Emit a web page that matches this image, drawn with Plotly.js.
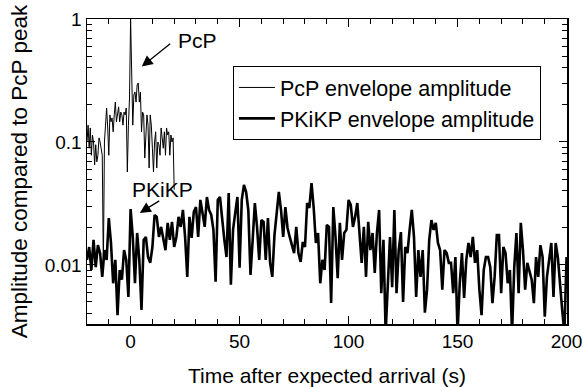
<!DOCTYPE html>
<html>
<head>
<meta charset="utf-8">
<script src="https://cdn.plot.ly/plotly-3.0.1.min.js"></script>
<style>html,body{margin:0;padding:0;background:#fff;}#chart{width:583px;height:387px;}</style>
</head>
<body>
<div id="chart"></div>
<script>
// PcP envelope amplitude, sampled every 0.5 s from -20 s
const pcpStart = -20, pcpStep = 0.5;
const pcpAmp = [
  0.100, 0.137, 0.089, 0.130, 0.078, 0.114, 0.100, 0.065, 0.095, 0.069,
  0.078, 0.108, 0.100, 0.089, 0.078, 0.0096, 0.100, 0.137, 0.189, 0.130,
  0.078, 0.166, 0.146, 0.157, 0.121, 0.166, 0.211, 0.146, 0.175, 0.193,
  0.146, 0.175, 0.166, 0.137, 0.175, 0.166, 0.189, 0.057, 0.137, 0.228,
  1.0, 0.423, 0.137, 0.241, 0.255, 0.211, 0.291, 0.302, 0.211, 0.255,
  0.121, 0.175, 0.166, 0.074, 0.137, 0.166, 0.137, 0.0615, 0.166, 0.137,
  0.089, 0.057, 0.100, 0.121, 0.0615, 0.100, 0.095, 0.078, 0.130, 0.100,
  0.089, 0.121, 0.078, 0.130, 0.114, 0.121, 0.078, 0.114, 0.100, 0.108,
  0.041
];
// PKiKP envelope amplitude, sampled every 1 s from -20 s
const pkikpStart = -20, pkikpStep = 1;
const pkikpAmp = [
  0.0110, 0.0140, 0.0091, 0.0160, 0.0096, 0.0145, 0.0125, 0.0080, 0.0132, 0.0110,
  0.0241, 0.0151, 0.0071, 0.0110, 0.0039, 0.0091, 0.0076, 0.0132, 0.0110, 0.0055,
  0.0285, 0.0169, 0.0071, 0.0182, 0.0110, 0.0043, 0.0160, 0.0169, 0.0116, 0.0104,
  0.0140, 0.0255, 0.0246, 0.0169, 0.0204, 0.0160, 0.0132, 0.0220, 0.0160, 0.0224,
  0.0140, 0.0169, 0.0246, 0.0204, 0.0280, 0.0169, 0.0080, 0.0246, 0.0166, 0.0270,
  0.0296, 0.0169, 0.0338, 0.0265, 0.0204, 0.0357, 0.0280, 0.0255, 0.0193, 0.0073,
  0.0338, 0.0357, 0.0232, 0.0160, 0.0116, 0.0385, 0.0069, 0.0193, 0.0265, 0.0357,
  0.0095, 0.0338, 0.0447, 0.0392, 0.0280, 0.0083, 0.0160, 0.0319, 0.0204, 0.0110,
  0.0232, 0.0224, 0.0110, 0.0241, 0.0104, 0.0080, 0.0175, 0.0255, 0.0392, 0.0280,
  0.0169, 0.0296, 0.0200, 0.0169, 0.0145, 0.0125, 0.0204, 0.0125, 0.0106, 0.0154,
  0.0140, 0.0319, 0.0291, 0.0464, 0.0291, 0.0151, 0.0182, 0.0071, 0.0110, 0.0091,
  0.0212, 0.0204, 0.0049, 0.0296, 0.0169, 0.0078, 0.0220, 0.0110, 0.0182, 0.0193,
  0.0338, 0.0308, 0.0204, 0.0246, 0.0319, 0.0169, 0.0104, 0.0204, 0.0080, 0.0224,
  0.0132, 0.0182, 0.0086, 0.0182, 0.0280, 0.0059, 0.0160, 0.0028, 0.0076, 0.0169,
  0.0066, 0.0280, 0.0059, 0.0132, 0.0185, 0.0050, 0.0140, 0.0125, 0.0193, 0.0280,
  0.0169, 0.0055, 0.0132, 0.0080, 0.0132, 0.0041, 0.0063, 0.0160, 0.0232, 0.0193,
  0.0220, 0.0151, 0.0132, 0.0063, 0.0132, 0.0125, 0.0104, 0.0104, 0.0059, 0.0116,
  0.0028, 0.0071, 0.0125, 0.0054, 0.0110, 0.0151, 0.0116, 0.0169, 0.0104, 0.0132,
  0.0063, 0.0039, 0.0091, 0.0116, 0.0116, 0.0096, 0.0049, 0.0080, 0.0175, 0.0175,
  0.0059, 0.0140, 0.0125, 0.0071, 0.0091, 0.0028, 0.0096, 0.0182, 0.0059, 0.0220,
  0.0132, 0.0063, 0.0104, 0.0091, 0.0076, 0.0049, 0.0116, 0.0080, 0.0145, 0.0116,
  0.0038, 0.0080, 0.0116, 0.0151, 0.0055, 0.0151, 0.0116, 0.0066, 0.0043, 0.0028,
  0.0116
];
const seriesNames = ["PcP envelope amplitude", "PKiKP envelope amplitude"];
const yTickVals = [0.01, 0.1, 1];
const yTickText = ["0.01", "0.1", "1"];
const yMinorVals = [0.004,0.005,0.006,0.007,0.008,0.009,0.02,0.03,0.04,0.05,0.06,0.07,0.08,0.09,0.2,0.3,0.4,0.5,0.6,0.7,0.8,0.9];
const xTickVals = [0, 50, 100, 150, 200];

const pcpTime = pcpAmp.map((_, i) => pcpStart + i * pcpStep);
const pkikpTime = pkikpAmp.map((_, i) => pkikpStart + i * pkikpStep);

const FONT = "Liberation Sans, Arial, Helvetica, sans-serif";

const traces = [
  {x: pcpTime, y: pcpAmp, type: "scatter", mode: "lines", name: seriesNames[0],
   line: {color: "#000", width: 1}},
  {x: pkikpTime, y: pkikpAmp, type: "scatter", mode: "lines", name: seriesNames[1],
   line: {color: "#000", width: 2.6}}
];

const layout = {
  width: 583, height: 387,
  margin: {l: 87, r: 16, t: 19, b: 63},
  paper_bgcolor: "#fff", plot_bgcolor: "#fff",
  font: {family: FONT, color: "#000", size: 19},
  showlegend: true,
  legend: {x: 0.304, y: 0.846, xanchor: "left", yanchor: "top",
           bgcolor: "#fff", bordercolor: "#000", borderwidth: 1,
           font: {family: FONT, size: 21.5, color: "#000"},
           itemwidth: 36, tracegroupgap: 0},
  xaxis: {
    range: [-20, 200.2], showgrid: false, zeroline: false,
    showline: true, linecolor: "#000", linewidth: 1.5, mirror: "ticks",
    ticks: "inside", ticklen: 8, tickwidth: 1, tickcolor: "#000",
    tickmode: "array", tickvals: xTickVals, ticktext: xTickVals.map(String),
    tickfont: {family: FONT, size: 19}, ticklabeloverflow: "allow",
    minor: {dtick: 10, tick0: 0, ticks: "inside", ticklen: 5, tickwidth: 1, tickcolor: "#000"},
    title: {text: "Time after expected arrival (s)", font: {family: FONT, size: 21}, standoff: 23}
  },
  yaxis: {
    type: "log", range: [-2.48, 0], showgrid: false, zeroline: false,
    showline: true, linecolor: "#000", linewidth: 1.5, mirror: "ticks",
    ticks: "inside", ticklen: 8, tickwidth: 1, tickcolor: "#000",
    tickmode: "array", tickvals: yTickVals, ticktext: yTickText,
    tickfont: {family: FONT, size: 19},
    minor: {tickmode: "array", tickvals: yMinorVals, ticks: "inside", ticklen: 5, tickwidth: 1, tickcolor: "#000"},
    title: {text: "Amplitude compared to PcP peak", font: {family: FONT, size: 22.5}, standoff: 11}
  },
  annotations: [
    {x: 5.1, y: Math.log10(0.41), xref: "x", yref: "y", text: "", showarrow: true,
     ax: 30, ay: -24, arrowhead: 2, arrowsize: 1.7, arrowwidth: 1.3, arrowcolor: "#000"},
    {x: 20.6, y: -0.171, xref: "x", yref: "y", xanchor: "left", yanchor: "middle",
     text: "PcP", showarrow: false, font: {family: FONT, size: 21}},
    {x: 4.2, y: Math.log10(0.0265), xref: "x", yref: "y", text: "", showarrow: true,
     ax: 21, ay: -13, arrowhead: 2, arrowsize: 1.7, arrowwidth: 1.3, arrowcolor: "#000"},
    {x: 14.5, y: -1.386, xref: "x", yref: "y", xanchor: "center", yanchor: "middle",
     text: "PKiKP", showarrow: false, font: {family: FONT, size: 21}}
  ]
};

Plotly.newPlot("chart", traces, layout, {displayModeBar: false, staticPlot: true});
</script>
</body>
</html>
